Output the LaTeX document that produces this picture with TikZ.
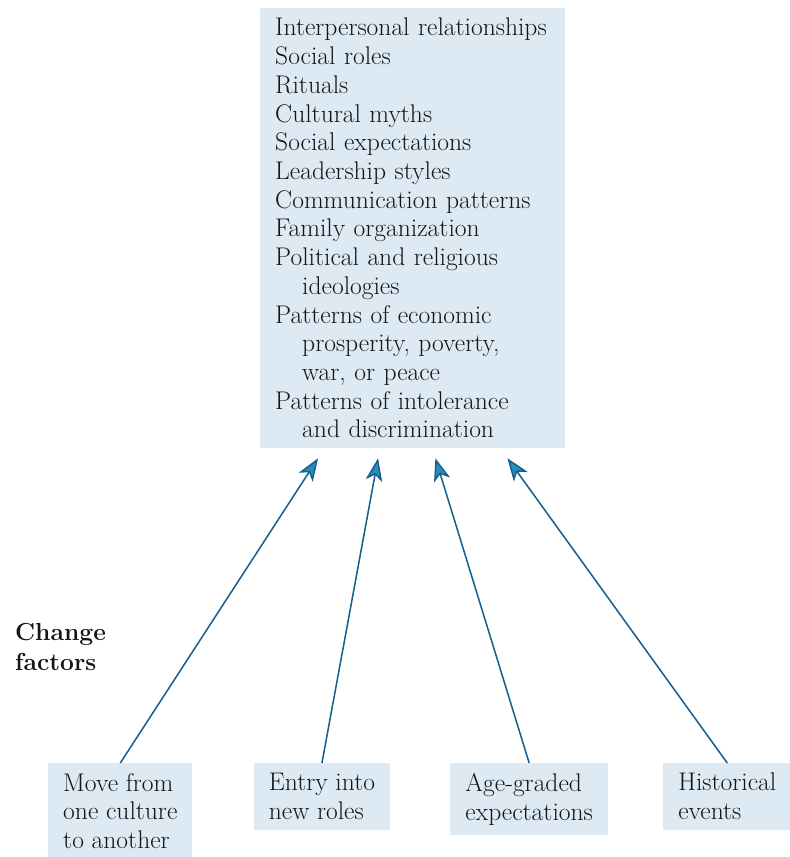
\documentclass[tikz,border=0pt]{standalone}
\usepackage{tikz}
\usetikzlibrary{positioning,arrows.meta}
\definecolor{boxblue}{RGB}{221,234,244}
\definecolor{arrowblue}{RGB}{22,96,142}
\definecolor{tipblue}{RGB}{42,140,190}
\definecolor{inkgray}{RGB}{22,20,20}

\begin{document}
\begin{tikzpicture}[x=0.03cm, y=-0.03cm,
    every node/.style = {text=inkgray, font=\fontsize{21.8}{24.5}\selectfont},
    factor/.style = {fill=boxblue, align=left, inner xsep=0.45cm, inner ysep=0.3cm, anchor=north west},
    link/.style = {draw=arrowblue, line width=1.3pt, -{Stealth[length=0.68cm, width=0.5cm, inset=0.18cm, fill=tipblue]}}]
    \useasboundingbox (0,0) rectangle (790,857);
    \node[factor, text width=8.25cm] (aspects) at (260,8) {Interpersonal relationships\\
        Social roles\\
        Rituals\\
        Cultural myths\\
        Social expectations\\
        Leadership styles\\
        Communication patterns\\
        Family organization\\
        Political and religious\\
        \hspace*{0.81cm}ideologies\\
        Patterns of economic\\
        \hspace*{0.81cm}prosperity, poverty,\\
        \hspace*{0.81cm}war, or peace\\
        Patterns of intolerance\\
        \hspace*{0.81cm}and discrimination};
    \node[anchor=west, align=left, inner xsep=0pt, font=\fontsize{21}{25}\selectfont\bfseries] (change) at (15,647) {Change\\factors};

    \node[factor] (move) at (48,763) {Move from\\one culture\\to another};
    \node[factor, below right=0cm and 1.83cm of move.north east] (entry) {Entry into\\new roles};
    \node[factor, below right=0cm and 1.8cm of entry.north east] (age) {Age-graded\\expectations};
    \node[factor, below right=0cm and 1.65cm of age.north east] (history) {Historical\\events};

    \draw[link] (move.north) -- ([xshift=-2.84cm, yshift=-0.3cm]aspects.south);
    \draw[link] (entry.north) -- ([xshift=-1.04cm, yshift=-0.3cm]aspects.south);
    \draw[link] (age.north) -- ([xshift=0.68cm, yshift=-0.3cm]aspects.south);
    \draw[link] (history.north) -- ([xshift=2.84cm, yshift=-0.3cm]aspects.south);
\end{tikzpicture}
\end{document}
